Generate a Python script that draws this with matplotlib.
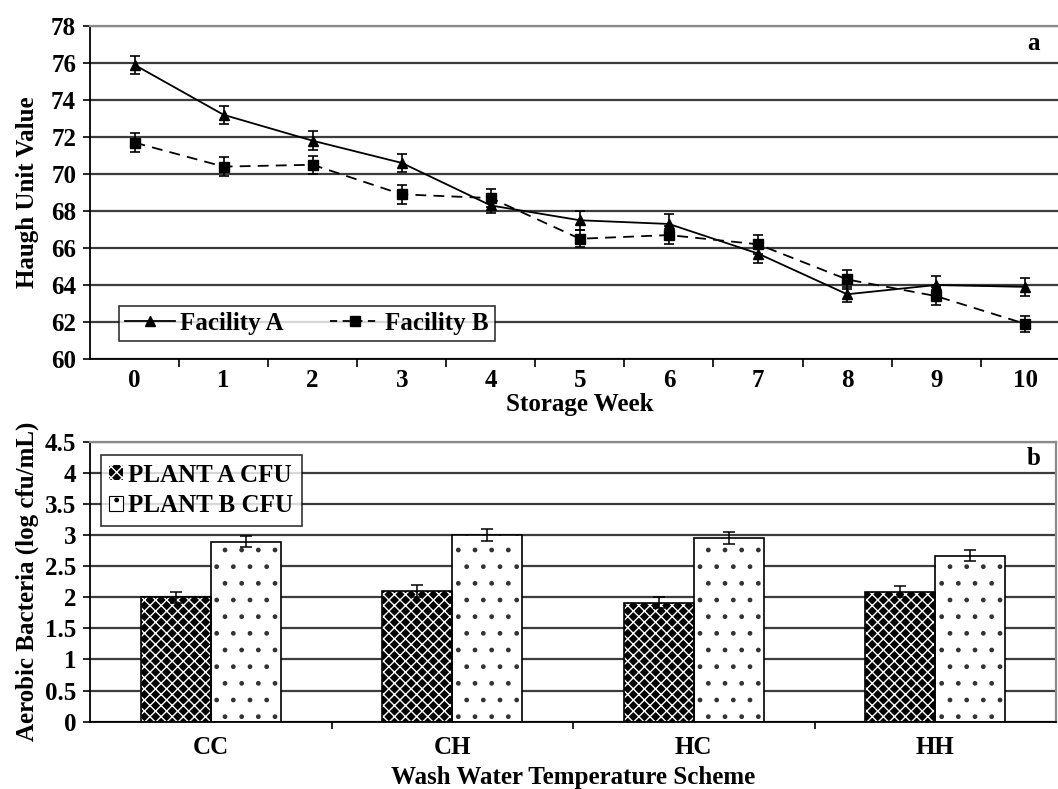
import numpy as np
import matplotlib.pyplot as plt
from matplotlib.lines import Line2D

plt.rcParams.update({
    "font.family": ["Liberation Serif", "DejaVu Serif"],
    "font.weight": "bold",
    "axes.labelweight": "bold",
    "hatch.linewidth": 1.0,
})

# ---------------- data ----------------
weeks = list(range(11))
facility_a = [75.9, 73.2, 71.8, 70.6, 68.3, 67.5, 67.3, 65.7, 63.5, 64.0, 63.9]
facility_a_err = [0.5, 0.5, 0.5, 0.5, 0.4, 0.5, 0.55, 0.5, 0.4, 0.5, 0.5]
facility_b = [71.7, 70.4, 70.5, 68.9, 68.7, 66.5, 66.7, 66.2, 64.3, 63.4, 61.9]
facility_b_err = [0.5, 0.5, 0.5, 0.5, 0.5, 0.45, 0.5, 0.5, 0.5, 0.5, 0.45]

schemes = ["CC", "CH", "HC", "HH"]
plant_a = [2.0, 2.1, 1.91, 2.09]
plant_a_err = [0.09, 0.09, 0.09, 0.09]
plant_b = [2.89, 3.0, 2.95, 2.67]
plant_b_err = [0.09, 0.09, 0.09, 0.09]

GRID = "#3c3c3c"
FRAME = "#8a8a8a"
FS = 18

fig = plt.figure(figsize=(10.58, 7.89), dpi=100)

# ---------------- panel a ----------------
ax1 = fig.add_axes([0.0851, 0.545, 0.926, 0.422])
ax1.errorbar(weeks, facility_a, yerr=facility_a_err, color="black", lw=1.3,
             marker="^", ms=7, capsize=3.5, elinewidth=1.2, capthick=1.2,
             zorder=3)
ax1.errorbar(weeks, facility_b, yerr=facility_b_err, color="black", lw=1.3,
             ls=(0, (6, 4)), marker="s", ms=6.5, capsize=3.5, elinewidth=1.2,
             capthick=1.2, zorder=3)

ax1.set_xlim(-0.5, 10.5)
ax1.set_ylim(60, 78)
ax1.set_yticks(np.arange(60, 79, 2))
ax1.set_xticks(weeks)
ax1.set_xticks(np.arange(0.5, 10.5, 1), minor=True)
ax1.tick_params(axis="x", which="major", length=0, pad=7, labelsize=FS)
ax1.tick_params(axis="x", which="minor", length=6, width=1.2, direction="out")
ax1.tick_params(axis="y", length=5, width=1.2, pad=5, labelsize=FS)
ax1.yaxis.grid(True, color=GRID, lw=1.6)
ax1.set_axisbelow(True)
for s in ("left", "bottom"):
    ax1.spines[s].set_linewidth(1.3)
for s in ("top", "right"):
    ax1.spines[s].set_color(FRAME)
    ax1.spines[s].set_linewidth(1.6)
ax1.set_xlabel("Storage Week", fontsize=FS, labelpad=1)
ax1.set_ylabel("Haugh Unit Value", fontsize=FS, labelpad=9)
fig.text(1033 / 1058, 1 - 43 / 789, "a", fontsize=FS, ha="center", va="center")

h_a = Line2D([], [], color="black", lw=1.3, marker="^", ms=7)
h_b = Line2D([], [], color="black", lw=1.3, ls=(0, (4, 3)), marker="s", ms=6.5)
leg1 = ax1.legend([h_a, h_b], ["Facility A", "Facility B"], loc="lower left",
                  bbox_to_anchor=(0.0296, 0.054, 0.3837, 0.1), mode="expand",
                  ncol=2, fontsize=FS, frameon=True, fancybox=False,
                  edgecolor="black", handlelength=2.0, borderpad=0.25,
                  handletextpad=0.2, borderaxespad=0)
leg1.get_frame().set_linewidth(1.2)

# ---------------- panel b ----------------
ax2 = fig.add_axes([0.0851, 0.0853, 0.913, 0.355])
x = np.arange(len(schemes))
w = 0.29
ax2.bar(x - w / 2, plant_a, w, color="black", edgecolor="white", hatch="xxx",
        linewidth=0, zorder=2)
ax2.bar(x - w / 2, plant_a, w, fill=False, edgecolor="black", linewidth=1.2,
        zorder=3)
ax2.bar(x + w / 2, plant_b, w, color="white", edgecolor="#333333", hatch=".",
        linewidth=0, zorder=2)
ax2.bar(x + w / 2, plant_b, w, fill=False, edgecolor="black", linewidth=1.2,
        zorder=3)
ax2.errorbar(x - w / 2, plant_a, yerr=plant_a_err, fmt="none", ecolor="black",
             elinewidth=1.1, capsize=4, capthick=1.1, zorder=4)
ax2.errorbar(x + w / 2, plant_b, yerr=plant_b_err, fmt="none", ecolor="black",
             elinewidth=1.1, capsize=4, capthick=1.1, zorder=4)

# legend handles drawn with the same fills
ha = plt.Rectangle((0, 0), 1, 1, facecolor="black", edgecolor="white",
                   hatch="xxx", linewidth=0)
hb = plt.Rectangle((0, 0), 1, 1, facecolor="white", edgecolor="black",
                   hatch=".", linewidth=0.8)
leg2 = ax2.legend([ha, hb], ["PLANT A CFU", "PLANT B CFU"], loc="upper left",
                  bbox_to_anchor=(0.0109, 0.9525), fontsize=FS, frameon=True,
                  fancybox=False, edgecolor="black", handlelength=0.55,
                  handleheight=0.55, handletextpad=0.2, borderpad=0.35,
                  labelspacing=0.3, borderaxespad=0)
leg2.get_frame().set_linewidth(1.2)

ax2.set_xlim(-0.5, 3.5)
ax2.set_ylim(0, 4.5)
ax2.set_yticks(np.arange(0, 4.51, 0.5))
ax2.set_yticklabels(["0", "0.5", "1", "1.5", "2", "2.5", "3", "3.5", "4", "4.5"])
ax2.set_xticks(x)
ax2.set_xticklabels(schemes)
ax2.set_xticks(np.arange(0.5, 3.5, 1), minor=True)
ax2.tick_params(axis="x", which="major", length=0, pad=10, labelsize=FS)
ax2.tick_params(axis="x", which="minor", length=5, width=1.2, direction="out")
ax2.tick_params(axis="y", length=5, width=1.2, pad=5, labelsize=FS)
ax2.yaxis.grid(True, color=GRID, lw=1.6)
ax2.set_axisbelow(True)
for s in ("left", "bottom"):
    ax2.spines[s].set_linewidth(1.3)
for s in ("top", "right"):
    ax2.spines[s].set_color(FRAME)
    ax2.spines[s].set_linewidth(1.6)
ax2.set_xlabel("Wash Water Temperature Scheme", fontsize=FS, labelpad=5)
ax2.set_ylabel("Aerobic Bacteria (log cfu/mL)", fontsize=FS, labelpad=4)
fig.text(1034 / 1058, 1 - 458 / 789, "b", fontsize=FS, ha="center", va="center")

fig.savefig("out.png", dpi=100)
